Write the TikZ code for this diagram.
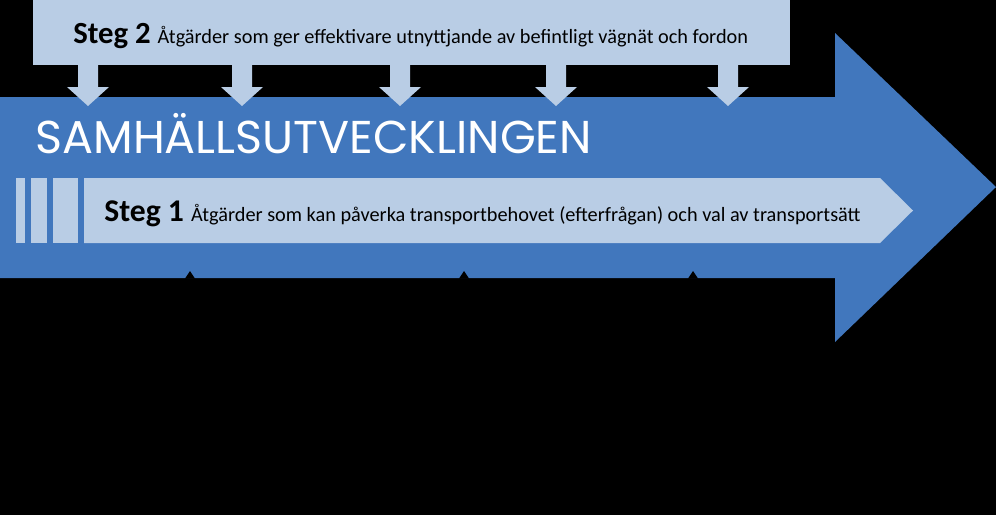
\documentclass[tikz,border=0pt]{standalone}
\usepackage{fontspec}
\setmainfont{Carlito}
\newfontfamily\titlefont{Poppins}
\usepackage{xcolor}
\definecolor{arrowblue}{RGB}{65,119,189}
\definecolor{paleblue}{RGB}{185,205,229}
\tikzstyle{mainshaded}=[fill=arrowblue]
\tikzstyle{paleshaded}=[fill=paleblue]
\tikzstyle{blackshaded}=[fill=black]
\tikzstyle{stegtext}=[anchor=base west,inner sep=0pt,text=black]

\begin{document}
\begin{tikzpicture}[x=0.02cm,y=-0.02cm]
	\fill[blackshaded] (0,0) rectangle (996,515);
	\useasboundingbox (0,0) rectangle (996,515);
	% big arrow
	\fill[mainshaded] (0,97) -- (835,97) -- (835,33) -- (996,187) -- (835,342) -- (835,278) -- (0,278) -- cycle;
	% steg 2 box with arrows
	\fill[paleshaded] (33,0) rectangle (790,65);
	\foreach \cx in {88,242,400,556,728}
		\fill[paleshaded] (\cx-10,64) -- (\cx+10,64) -- (\cx+10,87) -- (\cx+21,87) -- (\cx,106) -- (\cx-21,87) -- (\cx-10,87) -- cycle;
	% steg 1 arrow
	\fill[paleshaded] (16,178) rectangle (25,243);
	\fill[paleshaded] (31,178) rectangle (47,243);
	\fill[paleshaded] (53,178) rectangle (78,243);
	\fill[paleshaded] (84,178) -- (880,178) -- (913,210.5) -- (880,243) -- (84,243) -- cycle;
	% small tips
	\foreach \cx in {190,464,693}
		\fill[blackshaded] (\cx-5,278.5) -- (\cx,271) -- (\cx+5,278.5) -- cycle;
	\node[anchor=base west,inner sep=0pt,text=white] (title) at (35,153) {\titlefont\fontsize{26.2}{30}\selectfont SAMHÄLLSUTVECKLINGEN};
	\node[stegtext] (steg2) at (73,43) {\fontsize{17.5}{20}\selectfont\bfseries Steg 2 \fontsize{11.55}{14}\selectfont\mdseries Åtgärder som ger effektivare utnyttjande av befintligt vägnät och fordon};
	\node[stegtext] (steg1) at (104,221) {\fontsize{18}{22}\selectfont\bfseries Steg 1 \fontsize{11.55}{14}\selectfont\mdseries Åtgärder som kan påverka transportbehovet (efterfrågan) och val av transportsätt};
\end{tikzpicture}
\end{document}
